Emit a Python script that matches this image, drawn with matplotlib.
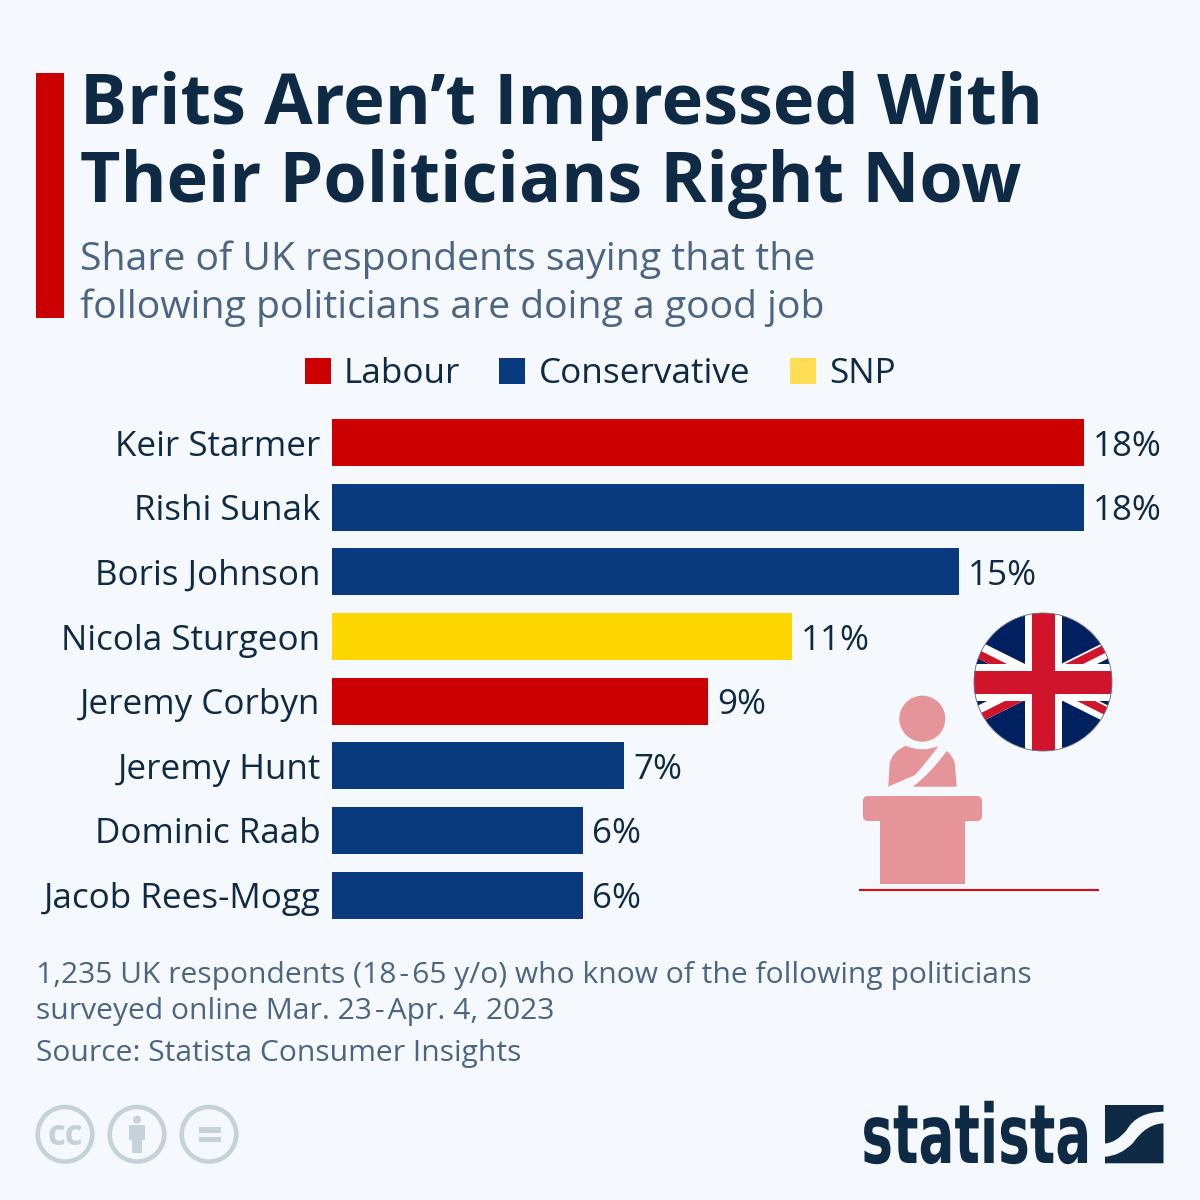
import matplotlib
matplotlib.use('Agg')
import matplotlib.pyplot as plt
from matplotlib.patches import Rectangle, Circle, Polygon, FancyBboxPatch, PathPatch
from matplotlib.patheffects import AbstractPathEffect
from matplotlib.path import Path
from matplotlib.transforms import Affine2D

plt.rcParams['font.family'] = ['Open Sans', 'DejaVu Sans']

politicians = ['Keir Starmer', 'Rishi Sunak', 'Boris Johnson', 'Nicola Sturgeon',
               'Jeremy Corbyn', 'Jeremy Hunt', 'Dominic Raab', 'Jacob Rees-Mogg']
shares = [18, 18, 15, 11, 9, 7, 6, 6]
parties = ['Labour', 'Conservative', 'Conservative', 'SNP',
           'Labour', 'Conservative', 'Conservative', 'Conservative']
party_colors = {'Labour': '#CC0000', 'Conservative': '#0A3A7E', 'SNP': '#FFD700'}

BG = '#F5F8FC'
NAVY = '#0F2A45'
SLATE = '#4C6583'
ICON_GREY = '#C6D2DA'
PINK = '#E59599'


class SqueezeX(AbstractPathEffect):
    # narrows drawn text horizontally around a fixed pixel column
    def __init__(self, factor, x0):
        super().__init__()
        self.factor = factor
        self.x0 = x0

    def draw_path(self, renderer, gc, tpath, affine, rgbFace=None):
        squeeze = Affine2D().translate(-self.x0, 0).scale(self.factor, 1).translate(self.x0, 0)
        renderer.draw_path(gc, tpath, affine + squeeze, rgbFace)


fig = plt.figure(figsize=(12, 12), dpi=100, facecolor=BG)

# full page axes in pixel units, y pointing down
page = fig.add_axes([0, 0, 1, 1])
page.set_xlim(0, 1200)
page.set_ylim(1200, 0)
page.axis('off')

# header
page.add_patch(Rectangle((36, 73), 28, 245, color='#CC0000', lw=0))
page.text(79.5, 106, 'Brits Aren’t Impressed With', fontsize=50.6, fontweight='bold',
          color=NAVY, va='center')
page.text(79.5, 184, 'Their Politicians Right Now', fontsize=50.5, fontweight='bold',
          color=NAVY, va='center')
page.text(80, 260, 'Share of UK respondents saying that the', fontsize=28.15,
          color=SLATE, va='center')
page.text(80, 308, 'following politicians are doing a good job', fontsize=28.15,
          color=SLATE, va='center')

# legend row
for name, sx, tx in [('Labour', 305, 344), ('Conservative', 499, 539), ('SNP', 790, 829)]:
    swatch = '#FFDD55' if name == 'SNP' else party_colors[name]
    page.add_patch(Rectangle((sx, 358), 25.5, 25.5, color=swatch, lw=0))
    page.text(tx, 374, name, fontsize=25.3, color=NAVY, va='center')

# bars
ax = fig.add_axes([332 / 1200, 1 - 927.4 / 1200, 752 / 1200, 517.1 / 1200])
ax.patch.set_alpha(0)
positions = list(range(len(politicians)))
bars = ax.barh(positions, shares, height=0.727,
               color=[party_colors[p] for p in parties])
ax.set_xlim(0, 18)
ax.set_ylim(7.5, -0.5)
ax.set_yticks(positions, politicians, fontsize=25.2, color=NAVY)
ax.tick_params(axis='y', length=0, pad=8.2)
ax.xaxis.set_visible(False)
for side in ax.spines.values():
    side.set_visible(False)
value_labels = ax.bar_label(bars, labels=[f'{v}%' for v in shares], padding=6.4,
                            fontsize=25.2, color=NAVY, clip_on=False)
for label in value_labels:
    label.set_verticalalignment('center_baseline')

# flag badge
cx, cy, r = 1043, 682, 69
clip = Circle((cx, cy), r, transform=page.transData)
flag = [Rectangle((cx - r, cy - r), 2 * r, 2 * r, color='#00205F', lw=0)]
for sgn_x, sgn_y, lo, hi in [(-1, -1, 0, 9), (1, -1, -7, 2), (-1, 1, 0, 9), (1, 1, -7, 2)]:
    ex = cx + sgn_x * 100
    ey = cy + sgn_y * 50
    flag.append(Polygon([(cx, cy - 9), (ex, ey - 9), (ex, ey + 9), (cx, cy + 9)],
                        color='white', lw=0))
    flag.append(Polygon([(cx, cy + lo), (ex, ey + lo), (ex, ey + hi), (cx, cy + hi)],
                        color='#CF142B', lw=0))
flag.append(Rectangle((cx - 18.5, cy - r), 37, 2 * r, color='white', lw=0))
flag.append(Rectangle((cx - r, cy - 18.5), 2 * r, 37, color='white', lw=0))
flag.append(Rectangle((cx - 11.5, cy - r), 23, 2 * r, color='#CF142B', lw=0))
flag.append(Rectangle((cx - r, cy - 11.5), 2 * r, 23, color='#CF142B', lw=0))
for part in flag:
    page.add_patch(part)
    part.set_clip_path(clip)
page.add_patch(Circle((cx, cy), r, fill=False, ec='#6B7280', lw=0.6))

# speaker at lectern
page.add_patch(Circle((922.3, 718.7), 23, color=PINK, lw=0))
left_body = Path(
    [(888.3, 786.7), (889.5, 765), (891, 752), (905.7, 745.7), (921.5, 753), (938.3, 746),
     (932, 756), (915, 775), (888.3, 786.7), (888.3, 786.7)],
    [Path.MOVETO, Path.LINETO, Path.CURVE3, Path.CURVE3, Path.CURVE3, Path.CURVE3,
     Path.CURVE3, Path.CURVE3, Path.LINETO, Path.CLOSEPOLY])
page.add_patch(PathPatch(left_body, color=PINK, lw=0))
right_body = Path(
    [(946.7, 751), (954, 757), (955, 765), (956.7, 786.7), (912.7, 786.7), (930, 774),
     (946.7, 751), (946.7, 751)],
    [Path.MOVETO, Path.CURVE3, Path.CURVE3, Path.LINETO, Path.LINETO, Path.CURVE3,
     Path.CURVE3, Path.CLOSEPOLY])
page.add_patch(PathPatch(right_body, color=PINK, lw=0))
page.add_patch(FancyBboxPatch((867, 800), 111, 17, boxstyle='round,pad=4,rounding_size=5',
                              color=PINK, lw=0))
page.add_patch(Rectangle((880, 820), 85, 64, color=PINK, lw=0))
page.plot([859, 1099], [890, 890], color='#DD0A14', lw=1.5, solid_capstyle='butt')

# footer notes
page.text(36, 975, '1,235 UK respondents (18\u200a-\u200a65 y/o) who know of the following politicians',
          fontsize=21.6, color=SLATE, va='center')
page.text(36, 1011, 'surveyed online Mar. 23\u200a-\u200aApr. 4, 2023', fontsize=21.6,
          color=SLATE, va='center')
page.text(36, 1053, 'Source: Statista Consumer Insights', fontsize=21.6, color=SLATE, va='center')

# licence icons
for x in (65, 137, 209):
    page.add_patch(Circle((x, 1134.3), 27.3, fill=False, ec=ICON_GREY, lw=3.3))
page.text(65, 1136, 'cc', fontsize=25, fontweight='bold', color=ICON_GREY,
          ha='center', va='center')
page.add_patch(Circle((137, 1119.7), 4, color=ICON_GREY, lw=0))
page.add_patch(Rectangle((129, 1124.7), 16, 15.3, color=ICON_GREY, lw=0))
page.add_patch(Rectangle((132.3, 1140), 9.4, 13.3, color=ICON_GREY, lw=0))
page.add_patch(Rectangle((199, 1127.3), 22, 5.4, color=ICON_GREY, lw=0))
page.add_patch(Rectangle((199, 1136.7), 22, 5.6, color=ICON_GREY, lw=0))

# statista wordmark and logo square
page.text(1091.5, 1163, 'statista', fontsize=59, fontweight='bold', color=NAVY,
          family='DejaVu Sans', ha='right', va='baseline',
          path_effects=[SqueezeX(0.65, 1091.5)])
upper_logo = Path(
    [(1105, 1105), (1163.5, 1105), (1163.5, 1111.7), (1137, 1112), (1126.7, 1130),
     (1116, 1143), (1105, 1143.5), (1105, 1105)],
    [Path.MOVETO, Path.LINETO, Path.LINETO, Path.CURVE3, Path.CURVE3, Path.CURVE3,
     Path.CURVE3, Path.CLOSEPOLY])
lower_logo = Path(
    [(1105, 1156.7), (1120, 1156), (1133, 1143), (1146, 1124), (1163.5, 1123.3),
     (1163.5, 1163.3), (1105, 1163.3), (1105, 1156.7)],
    [Path.MOVETO, Path.CURVE3, Path.CURVE3, Path.CURVE3, Path.CURVE3, Path.LINETO,
     Path.LINETO, Path.CLOSEPOLY])
page.add_patch(PathPatch(upper_logo, color=NAVY, lw=0))
page.add_patch(PathPatch(lower_logo, color=NAVY, lw=0))

fig.savefig('out.png', dpi=100, facecolor=BG)
